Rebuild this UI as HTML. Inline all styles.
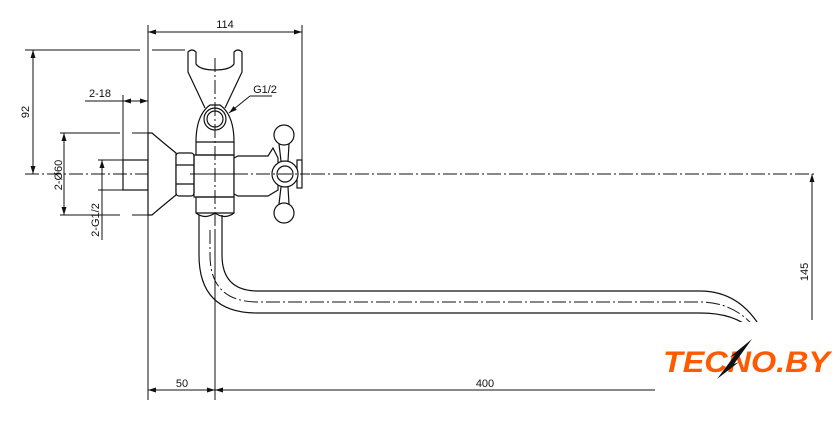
<!DOCTYPE html>
<html><head><style>
html,body{margin:0;padding:0;background:#fff}
svg{display:block}
text{font-family:"Liberation Sans",sans-serif;font-size:11px;fill:#111}
</style></head><body>
<svg width="840" height="422" viewBox="0 0 840 422" xmlns="http://www.w3.org/2000/svg">
<defs>
<marker id="a" markerWidth="8" markerHeight="6" refX="8" refY="3" orient="auto-start-reverse" markerUnits="userSpaceOnUse"><path d="M0,0.5 L8,3 L0,5.5 Z" fill="#111"/></marker>
</defs>
<g stroke="#111" stroke-width="1" fill="none">
<line x1="25" y1="174" x2="815" y2="174" stroke-dasharray="14,3,2,3"/>
<line x1="215" y1="58" x2="215" y2="230" stroke-dasharray="14,3,2,3"/>
<line x1="148" y1="25" x2="148" y2="400"/>
<line x1="302" y1="25" x2="302" y2="174"/>
<line x1="215" y1="230" x2="215" y2="400"/>
<line x1="25" y1="50" x2="140" y2="50"/>
<line x1="152" y1="50" x2="185" y2="50"/>
<line x1="60" y1="133" x2="120" y2="133"/>
<line x1="132" y1="133" x2="148" y2="133"/>
<line x1="60" y1="215" x2="120" y2="215"/>
<line x1="132" y1="215" x2="148" y2="215"/>
<line x1="98" y1="160" x2="123" y2="160"/>
<line x1="98" y1="190" x2="123" y2="190"/>
<line x1="123" y1="95" x2="123" y2="160"/>
<line x1="148" y1="32" x2="302" y2="32" marker-start="url(#a)" marker-end="url(#a)"/>
<line x1="33" y1="50" x2="33" y2="174" marker-start="url(#a)" marker-end="url(#a)"/>
<line x1="64" y1="133" x2="64" y2="215" marker-start="url(#a)" marker-end="url(#a)"/>
<line x1="102" y1="160" x2="102" y2="240" marker-start="url(#a)"/>
<line x1="85" y1="101" x2="123" y2="101"/>
<line x1="123" y1="101" x2="148" y2="101" marker-start="url(#a)" marker-end="url(#a)"/>
<line x1="148" y1="390" x2="215" y2="390" marker-start="url(#a)" marker-end="url(#a)"/>
<line x1="215" y1="390" x2="655" y2="390" marker-start="url(#a)"/>
<line x1="812" y1="174" x2="812" y2="320" marker-start="url(#a)"/>
<line x1="250" y1="96" x2="272" y2="96"/>
<line x1="250" y1="96" x2="229" y2="113" marker-end="url(#a)"/>
</g>
<g stroke="#111" stroke-width="1.2" fill="#fff">
<rect x="123" y="160" width="25" height="30" fill="none"/>
<path d="M148,133 L152,133 Q160,140 176,153 L176,195 Q160,208 152,215 L148,215 Z"/>
<rect x="176" y="153" width="18" height="43" rx="3"/>
<line x1="176" y1="165" x2="194" y2="165"/><line x1="176" y1="184" x2="194" y2="184"/>
<path d="M205,108 L188,72 L188,52 Q192,48 196,52 L196,64 Q200,70 215,70 Q230,70 234,64 L234,52 Q238,48 242,52 L242,72 L225,108" fill="none"/>
<path d="M196,155 L196,142 Q196,115 210,105 L220,105 Q234,115 234,142 L234,155 Z"/>
<line x1="196" y1="142" x2="234" y2="142"/>
<path d="M196,197 L196,213 Q205,220 215,213 Q225,220 234,213 L234,197 Z"/>
<line x1="196" y1="213" x2="234" y2="213"/>
<rect x="194" y="155" width="40" height="42" fill="none"/>
<circle cx="215" cy="119" r="11"/>
<circle cx="215" cy="119" r="8"/>
<path d="M234,158 L238,156 L268,156 L273,148 L278,158 L278,190 L268,196 L238,196 L234,194 Z"/>
<path d="M279,144 L281,161 M289,144 L288,161 M279,204 L281,187 M289,204 L288,187" fill="none"/>
<circle cx="284" cy="135" r="10"/>
<circle cx="284" cy="213" r="10"/>
<rect x="297" y="160" width="5" height="28"/>
<circle cx="285" cy="174" r="13"/>
<circle cx="285" cy="174" r="8"/>
</g>
<g stroke="#111" fill="none">
<line x1="215" y1="58" x2="215" y2="230" stroke-dasharray="14,3,2,3"/>
<line x1="190" y1="174" x2="310" y2="174" stroke-dasharray="14,3,2,3"/>
<path d="M199,215 L199,255 Q199,313 257,313 L700,313 Q735,313 752,330" stroke-width="1.2"/>
<path d="M222,215 L222,255 Q222,291 258,291 L700,291 Q740,291 762,330" stroke-width="1.2"/>
<path d="M210,230 L210,255 Q210,302 258,302 L700,302 Q735,302 757,330" stroke-dasharray="14,3,2,3"/>
</g>
<rect x="640" y="322" width="200" height="60" fill="#fff"/>
<text x="225" y="28" text-anchor="middle">114</text>
<text x="265" y="93" text-anchor="middle">G1/2</text>
<text x="100" y="97" text-anchor="middle">2-18</text>
<text x="182" y="387" text-anchor="middle">50</text>
<text x="485" y="387" text-anchor="middle">400</text>
<text transform="translate(29,112) rotate(-90)" text-anchor="middle">92</text>
<text transform="translate(62,175) rotate(-90)" text-anchor="middle">2-Ø60</text>
<text transform="translate(99,220) rotate(-90)" text-anchor="middle">2-G1/2</text>
<text transform="translate(808,272) rotate(-90)" text-anchor="middle">145</text>
<text x="663" y="372" textLength="167" lengthAdjust="spacingAndGlyphs" style="font-size:30px;font-weight:bold;font-style:italic;fill:#ff5a00">TECNO.BY</text>
<path d="M752,339 L734,364 L739,362 L717,379 L735,355 L730,357 Z" fill="#111"/>
</svg>
</body></html>
